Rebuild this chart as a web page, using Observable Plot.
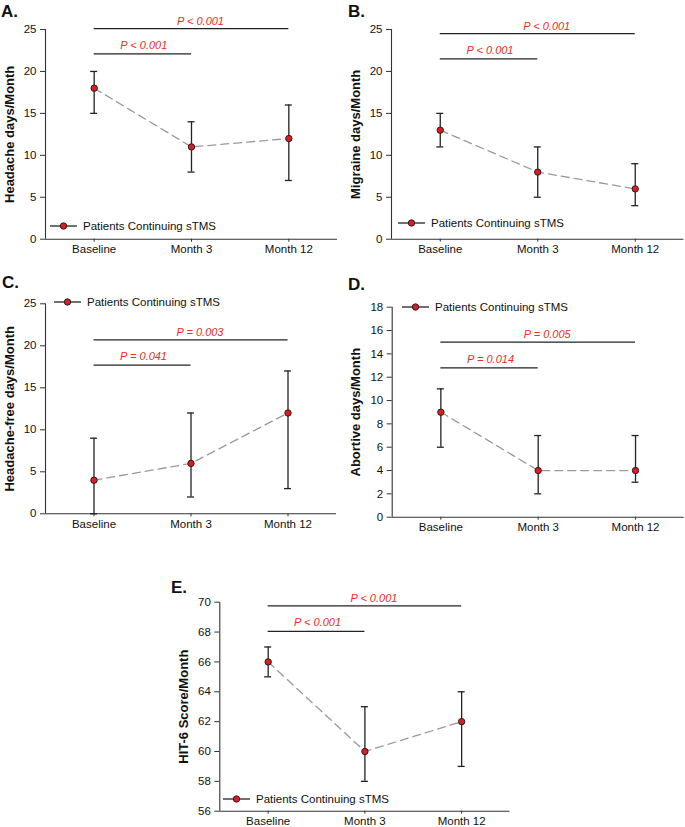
<!DOCTYPE html>
<html>
<head>
<meta charset="utf-8">
<script src="https://cdn.jsdelivr.net/npm/d3@7"></script>
<script src="https://cdn.jsdelivr.net/npm/@observablehq/plot@0.6"></script>
<style>
  body { margin: 0; background: #fff; }
  #fig { position: relative; width: 685px; height: 827px; background: #fff; font-family: "Liberation Sans", Arial, sans-serif; }
  .panel { position: absolute; }
  .panel svg { overflow: visible; }
  .letter { position: absolute; font-weight: bold; font-size: 17px; line-height: 1; color: #111; }
  .legend { position: absolute; display: flex; align-items: center; font-size: 11.5px; color: #111; white-space: nowrap; }
</style>
</head>
<body>
<div id="fig"></div>
<script>
// ---- Data ----
const timepoints = ["Baseline", "Month 3", "Month 12"];
const seriesName = "Patients Continuing sTMS";

const headacheMean = [18, 11, 12];
const headacheLow = [15, 8, 7];
const headacheHigh = [20, 14, 16];

const migraineMean = [13, 8, 6];
const migraineLow = [11, 5, 4];
const migraineHigh = [15, 11, 9];

const freeMean = [4, 6, 12];
const freeLow = [0, 2, 3];
const freeHigh = [9, 12, 17];

const abortiveMean = [9, 4, 4];
const abortiveLow = [6, 2, 3];
const abortiveHigh = [11, 7, 7];

const hitMean = [66, 60, 62];
const hitLow = [65, 58, 59];
const hitHigh = [67, 63, 64];

const bracketFrom = [0, 0];
const bracketTo = [1, 2];
const headacheBracketY = [22.1, 25.1];
const migraineBracketY = [21.5, 24.5];
const freeBracketY = [17.7, 20.7];
const abortiveBracketY = [12.8, 15.0];
const hitBracketY = [68.05, 69.75];
const headacheP = ["P < 0.001", "P < 0.001"];
const migraineP = ["P < 0.001", "P < 0.001"];
const freeP = ["P = 0.041", "P = 0.003"];
const abortiveP = ["P = 0.014", "P = 0.005"];
const hitP = ["P < 0.001", "P < 0.001"];

const ticks25 = [0, 5, 10, 15, 20, 25];
const ticks18 = [0, 2, 4, 6, 8, 10, 12, 14, 16, 18];
const ticksHit = [56, 58, 60, 62, 64, 66, 68, 70];

// ---- Panels (layout) ----
const panels = [
  {letter: "A.", ylabel: "Headache days/Month", mean: headacheMean, low: headacheLow, high: headacheHigh,
   by: headacheBracketY, p: headacheP, ticks: ticks25,
   left: 0, top: 0, width: 340, height: 270, mL: 45, mR: 3, mT: 29, mB: 31.3,
   letterPos: [1, 3], legend: [50, 226]},
  {letter: "B.", ylabel: "Migraine days/Month", mean: migraineMean, low: migraineLow, high: migraineHigh,
   by: migraineBracketY, p: migraineP, ticks: ticks25,
   left: 340, top: 0, width: 345, height: 270, mL: 51, mR: 1.5, mT: 29, mB: 31.3,
   letterPos: [348, 3], legend: [398, 223]},
  {letter: "C.", ylabel: "Headache-free days/Month", mean: freeMean, low: freeLow, high: freeHigh,
   by: freeBracketY, p: freeP, ticks: ticks25,
   left: 0, top: 270, width: 340, height: 270, mL: 45, mR: 4, mT: 33.3, mB: 26.7,
   letterPos: [2, 274], legend: [54, 302]},
  {letter: "D.", ylabel: "Abortive days/Month", mean: abortiveMean, low: abortiveLow, high: abortiveHigh,
   by: abortiveBracketY, p: abortiveP, ticks: ticks18,
   left: 340, top: 270, width: 345, height: 270, mL: 51.7, mR: 1.3, mT: 36.7, mB: 23.3,
   letterPos: [348, 276], legend: [402, 306.5]},
  {letter: "E.", ylabel: "HIT-6 Score/Month", mean: hitMean, low: hitLow, high: hitHigh,
   by: hitBracketY, p: hitP, ticks: ticksHit,
   left: 170, top: 560, width: 340, height: 267, mL: 49.3, mR: 0.5, mT: 41.7, mB: 16.3,
   letterPos: [171, 579], legend: [223, 799]}
];

const fig = document.getElementById("fig");
const RED = "#e3191f";
const PRED = "#ee2b26";
const AXIS = "#333";

for (const p of panels) {
  const rows = timepoints.map((t, i) => ({i, t, mean: p.mean[i], low: p.low[i], high: p.high[i]}));
  const brackets = bracketFrom.map((f, k) => ({from: f, to: bracketTo[k], mid: (f + bracketTo[k]) / 2, y: p.by[k], label: p.p[k]}));
  const ymin = p.ticks[0], ymax = p.ticks[p.ticks.length - 1];

  const chart = Plot.plot({
    width: p.width, height: p.height,
    marginLeft: p.mL, marginRight: p.mR, marginTop: p.mT, marginBottom: p.mB,
    style: {fontFamily: '"Liberation Sans", Arial, sans-serif', fontSize: "11.5px", color: "#111", background: "transparent", overflow: "visible"},
    x: {domain: [-0.5, 2.5], axis: null},
    y: {domain: [ymin, ymax], axis: null},
    marks: [
      Plot.ruleX([-0.5], {stroke: AXIS, strokeWidth: 1.1}),
      Plot.ruleY([ymin], {stroke: AXIS, strokeWidth: 1.1}),
      Plot.axisX({ticks: [0, 1, 2], tickFormat: i => timepoints[i], tickSize: 3, tickPadding: 3, fontSize: 11.5, stroke: AXIS, fill: "#111", label: null}),
      Plot.axisY({ticks: p.ticks, tickSize: 5, tickPadding: 4, fontSize: 11.5, stroke: AXIS, fill: "#111", label: null}),
      Plot.text([p.ylabel], {frameAnchor: "left", rotate: -90, dx: -36, textAnchor: "middle", lineAnchor: "middle", fontWeight: "bold", fontSize: 13, fill: "#111"}),
      Plot.line(rows, {x: "i", y: "mean", stroke: "#9a9a9a", strokeWidth: 1.3, strokeDasharray: "8,5"}),
      Plot.ruleX(rows, {x: "i", y1: "low", y2: "high", stroke: "#222", strokeWidth: 1.3}),
      Plot.ruleY(rows, {y: "low", x1: "i", x2: "i", insetLeft: -3.5, insetRight: -3.5, stroke: "#222", strokeWidth: 1.3}),
      Plot.ruleY(rows, {y: "high", x1: "i", x2: "i", insetLeft: -3.5, insetRight: -3.5, stroke: "#222", strokeWidth: 1.3}),
      Plot.dot(rows, {x: "i", y: "mean", r: 3.2, fill: RED, stroke: "#222", strokeWidth: 1}),
      Plot.ruleY(brackets, {y: "y", x1: "from", x2: "to", stroke: "#222", strokeWidth: 1.2}),
      Plot.text(brackets.filter(b => b.to - b.from === 1), {x: "mid", y: "y", text: "label", dy: -8.5, dx: 1, fill: PRED, fontStyle: "italic", fontSize: 11}),
      Plot.text(brackets.filter(b => b.to - b.from === 2), {x: "mid", y: "y", text: "label", dy: -7.5, dx: 9, fill: PRED, fontStyle: "italic", fontSize: 11})
    ]
  });
  const wrap = document.createElement("div");
  wrap.className = "panel";
  wrap.style.left = p.left + "px";
  wrap.style.top = p.top + "px";
  wrap.appendChild(chart);
  fig.appendChild(wrap);

  const letter = document.createElement("div");
  letter.className = "letter";
  letter.textContent = p.letter;
  letter.style.left = p.letterPos[0] + "px";
  letter.style.top = p.letterPos[1] + "px";
  fig.appendChild(letter);

  const lg = document.createElement("div");
  lg.className = "legend";
  lg.style.left = p.legend[0] + "px";
  lg.style.top = (p.legend[1] - 8) + "px";
  lg.style.height = "16px";
  lg.innerHTML = `<svg width="27" height="16" style="display:block"><line x1="0" x2="27" y1="8" y2="8" stroke="#222" stroke-width="1.3"></line><circle cx="13.5" cy="8" r="3.2" fill="${RED}" stroke="#222" stroke-width="1"></circle></svg><span style="margin-left:6px">${seriesName}</span>`;
  fig.appendChild(lg);
}
</script>
</body>
</html>
